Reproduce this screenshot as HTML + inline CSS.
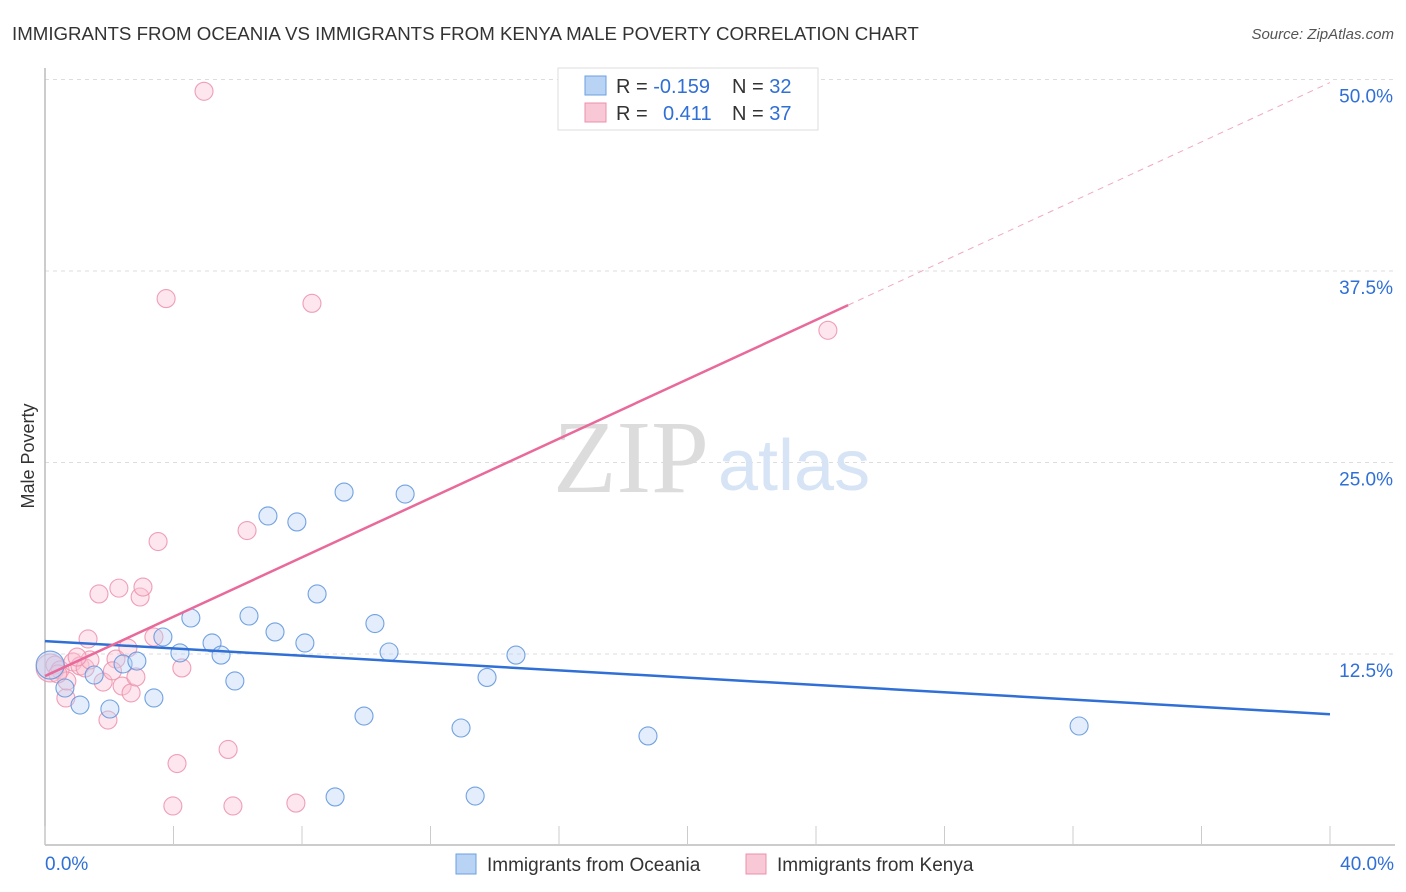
<!DOCTYPE html>
<html><head><meta charset="utf-8"><style>
body{margin:0;background:#fff;font-family:"Liberation Sans",sans-serif;}
svg{display:block}
</style></head><body>
<svg id="chart" width="1406" height="892" viewBox="0 0 1406 892">
<text x="12" y="40" font-size="18.7" fill="#333">IMMIGRANTS FROM OCEANIA VS IMMIGRANTS FROM KENYA MALE POVERTY CORRELATION CHART</text>
<text x="1394" y="39" font-size="15" fill="#555" font-style="italic" text-anchor="end">Source: ZipAtlas.com</text>
<text transform="translate(34,456) rotate(-90)" font-size="18" fill="#333" text-anchor="middle">Male Poverty</text>
<g id="grid"></g>
<text x="553" y="492" font-size="104" fill="#dcdcdc" font-family="Liberation Serif,serif">ZIP</text>
<text x="718" y="490" font-size="72" fill="#d6e4f5">atlas</text>
<g id="marks"></g>
<g>
<rect x="558" y="68" width="260" height="62" fill="#fff" stroke="#ddd"/>
<rect x="585" y="76" width="21" height="19" fill="#b9d3f5" stroke="#6a9fe0"/>
<rect x="585" y="103" width="21" height="19" fill="#f9c8d6" stroke="#ec8fab"/>
<text x="616" y="93" font-size="20" fill="#333">R = <tspan fill="#2f6fd6">-0.159</tspan></text>
<text x="732" y="93" font-size="20" fill="#333">N = <tspan fill="#2f6fd6">32</tspan></text>
<text x="616" y="120" font-size="20" fill="#333">R = <tspan fill="#2f6fd6" x="663">0.411</tspan></text>
<text x="732" y="120" font-size="20" fill="#333">N = <tspan fill="#2f6fd6">37</tspan></text>
</g>
<g>
<rect x="456" y="854" width="20" height="20" fill="#b9d3f5" stroke="#6a9fe0"/>
<text x="487" y="871" font-size="19" fill="#333">Immigrants from Oceania</text>
<rect x="746" y="854" width="20" height="20" fill="#f9c8d6" stroke="#ec8fab"/>
<text x="777" y="871" font-size="19" fill="#333">Immigrants from Kenya</text>
</g>
</svg>
<script>
const xTicks=[0,4,8,12,16,20,24,28,32,36,40];
const yTicks=[12.5,25,37.5,50];
const yTickLabels=["12.5%","25.0%","37.5%","50.0%"];
const xTickLabels=["0.0%","40.0%"];
const oceaniaX=[0.16,0.62,1.09,1.53,2.02,2.43,2.86,3.39,3.67,4.20,4.54,5.20,5.48,5.91,6.35,6.94,7.16,7.84,8.09,8.47,9.03,9.31,9.93,10.27,10.71,11.21,12.95,13.39,13.76,14.66,18.77,32.19];
const oceaniaY=[11.78,10.28,9.17,11.13,8.91,11.85,12.04,9.63,13.61,12.57,14.85,13.22,12.43,10.74,14.98,21.51,13.94,21.12,13.22,16.42,3.17,23.07,8.45,14.49,12.63,22.94,7.67,3.23,10.97,12.43,7.15,7.80];
const kenyaX=[0.16,0.31,0.47,0.65,0.68,0.87,1.09,1.25,1.34,1.40,1.68,1.81,1.96,2.21,2.30,2.40,2.58,2.68,2.83,2.96,3.05,3.39,3.52,3.77,3.98,4.11,4.26,4.95,5.70,5.85,6.29,7.81,8.31,24.37,0.40,1.00,2.10];
const kenyaY=[11.59,11.78,11.46,9.63,10.74,11.98,11.72,11.59,13.48,12.11,16.42,10.67,8.19,12.17,16.80,10.41,12.89,9.96,11.0,16.22,16.87,13.61,19.84,35.70,2.58,5.35,11.59,49.23,6.27,2.58,20.56,2.77,35.39,33.63,11.2,12.3,11.4];
const oceaniaFit=[13.34,8.57];
const kenyaFit=[11.06,49.8];
const kenyaFitSolidEnd=25.0;
const NS="http://www.w3.org/2000/svg";
const X0=45,X1=1330,Y0=845.5,YS=191.5/12.5;
const sx=v=>X0+(v/40)*(X1-X0);
const sy=v=>Y0-v*YS;
function mk(tag,attrs,parent){const e=document.createElementNS(NS,tag);for(const k in attrs)e.setAttribute(k,attrs[k]);parent.appendChild(e);return e;}
const grid=document.getElementById('grid');
const marks=document.getElementById('marks');
yTicks.forEach((t,i)=>{
 const l=mk('line',{x1:X0,x2:1395,y1:sy(t),y2:sy(t),stroke:'#ddd','stroke-dasharray':'4,4'},grid);
 
 
 const tx=mk('text',{x:1393,y:sy(t)+23,'font-size':19,fill:'#2f6fd6','text-anchor':'end'},grid);
 tx.textContent=yTickLabels[i];
 
 
});
const ax=mk('line',{x1:X0,x2:1395,y1:845,y2:845,stroke:'#bbb','stroke-width':1.5},grid);


const ay=mk('line',{x1:X0,x2:X0,y1:68,y2:845,stroke:'#bbb','stroke-width':1.5},grid);


xTicks.forEach(t=>{
 const l=mk('line',{x1:sx(t),x2:sx(t),y1:826,y2:845,stroke:'#ccc'},grid);
 
 
});
[[0,'start',45],[40,'end',1394]].forEach((d,i)=>{
 const tx=mk('text',{x:d[2],y:870,'font-size':19,fill:'#2f6fd6','text-anchor':d[1]},grid);
 tx.textContent=xTickLabels[i];
 
 
});
function pts(xs,ys,fill,stroke,name){
 xs.forEach((x,i)=>{
  const big=(i===0);
  const c=mk('circle',{cx:sx(x),cy:sy(ys[i]),r:big?14:9,fill:fill,'fill-opacity':big?0.5:0.4,stroke:stroke,'stroke-width':1.1,'stroke-opacity':0.85},marks);
  
  
 });
}
pts(kenyaX,kenyaY,'#f9c0d1','#ec8fab','kenya-point');
pts(oceaniaX,oceaniaY,'#b9d3f5','#5b93dd','oceania-point');
const bl=mk('line',{x1:sx(0),y1:sy(oceaniaFit[0]),x2:sx(40),y2:sy(oceaniaFit[1]),stroke:'#2f6fd6','stroke-width':2.5},marks);


const k=(x)=>kenyaFit[0]+(kenyaFit[1]-kenyaFit[0])*x/40;
const pl=mk('line',{x1:sx(0),y1:sy(k(0)),x2:sx(kenyaFitSolidEnd),y2:sy(k(kenyaFitSolidEnd)),stroke:'#e8699a','stroke-width':2.5},marks);


const pd=mk('line',{x1:sx(kenyaFitSolidEnd),y1:sy(k(kenyaFitSolidEnd)),x2:sx(40),y2:sy(k(40)),stroke:'#f0a8c0','stroke-width':1,'stroke-dasharray':'6,5'},marks);


</script>
</body></html>
